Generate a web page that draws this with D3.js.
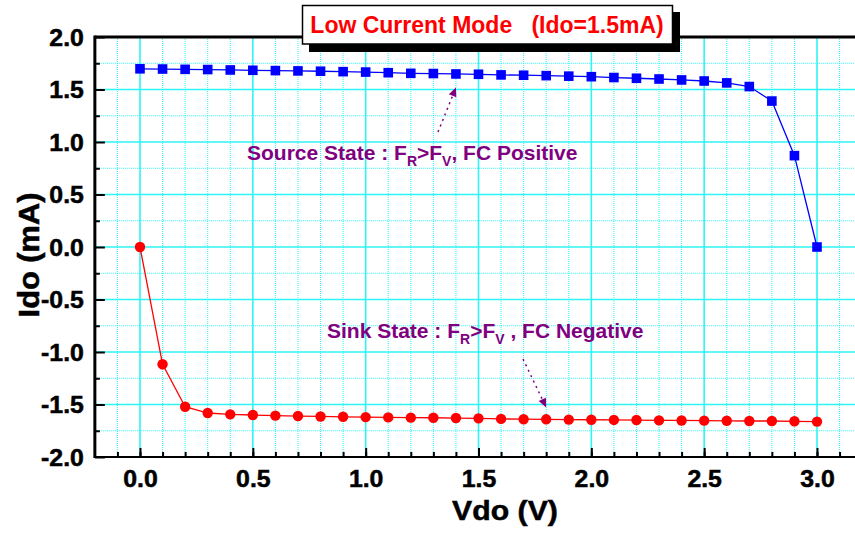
<!DOCTYPE html>
<html><head><meta charset="utf-8">
<script src="https://cdn.jsdelivr.net/npm/d3@7"></script>
<style>
html,body{margin:0;padding:0;background:#fff;}
svg{display:block;font-family:"Liberation Sans",Arial,sans-serif;font-weight:bold;}
</style></head>
<body><svg id="c" width="855" height="533"></svg>
<script>
// ---- data ----
const vdo = [0.0,0.1,0.2,0.3,0.4,0.5,0.6,0.7,0.8,0.9,1.0,1.1,1.2,1.3,1.4,1.5,1.6,1.7,1.8,1.9,2.0,2.1,2.2,2.3,2.4,2.5,2.6,2.7,2.8,2.9,3.0];
const sourceIdo = [1.697,1.695,1.692,1.690,1.686,1.683,1.680,1.677,1.674,1.670,1.666,1.660,1.654,1.652,1.648,1.645,1.639,1.636,1.632,1.627,1.622,1.614,1.607,1.600,1.591,1.581,1.563,1.528,1.390,0.870,0.0];
const sinkIdo = [0.0,-1.117,-1.521,-1.581,-1.594,-1.600,-1.606,-1.610,-1.614,-1.617,-1.620,-1.623,-1.625,-1.626,-1.629,-1.632,-1.637,-1.640,-1.641,-1.644,-1.645,-1.647,-1.648,-1.651,-1.652,-1.654,-1.655,-1.657,-1.657,-1.660,-1.663];
const xTicks = [0.0,0.5,1.0,1.5,2.0,2.5,3.0];
const yTicks = [-2.0,-1.5,-1.0,-0.5,0.0,0.5,1.0,1.5,2.0];
const titleText = "Low Current Mode\u00a0\u00a0\u00a0(Ido=1.5mA)";
const xLabel = "Vdo (V)";
const yLabel = "Ido (mA)";

// ---- layout ----
const svg = d3.select("#c");
const x = d3.scaleLinear().domain([0,3]).range([140,817]);
const y = d3.scaleLinear().domain([-2,2]).range([457,37]);
const xMin = -0.2;
const pL = x(xMin), pR = 860, pT = y(2), pB = y(-2);
const fmt = d => (d < 0 ? "-" : "") + Math.abs(d).toFixed(1);

// grid
const g = svg.append("g");
const xMinor = d3.range(-1,35).map(i=>i/10).filter(v=>Math.round(v*10)%5!==0);
const xMajor = d3.range(0,35,5).map(i=>i/10);
const yMinor = d3.range(-7,8,2).map(i=>i/4);
const yMajor = d3.range(-3,4).map(i=>i/2);
const cyan = "#2ef5f5";
g.selectAll(".vxm").data(xMinor).join("line")
  .attr("x1",d=>x(d)).attr("x2",d=>x(d)).attr("y1",pT).attr("y2",pB)
  .attr("stroke",cyan).attr("stroke-width",1).attr("stroke-dasharray","1,1");
g.selectAll(".hym").data(yMinor).join("line")
  .attr("x1",pL).attr("x2",pR).attr("y1",d=>y(d)).attr("y2",d=>y(d))
  .attr("stroke",cyan).attr("stroke-width",1).attr("stroke-dasharray","1,1");
g.selectAll(".vxM").data(xMajor).join("line")
  .attr("x1",d=>x(d)).attr("x2",d=>x(d)).attr("y1",pT).attr("y2",pB)
  .attr("stroke",cyan).attr("stroke-width",1.6);
g.selectAll(".hyM").data(yMajor).join("line")
  .attr("x1",pL).attr("x2",pR).attr("y1",d=>y(d)).attr("y2",d=>y(d))
  .attr("stroke",cyan).attr("stroke-width",1.6);

// data lines
const line = d3.line().x(d=>x(d[0])).y(d=>y(d[1]));
const src = vdo.map((v,i)=>[v,sourceIdo[i]]);
const snk = vdo.map((v,i)=>[v,sinkIdo[i]]);
svg.append("path").datum(src).attr("d",line).attr("fill","none").attr("stroke","#0000ff").attr("stroke-width",1.3);
svg.append("path").datum(snk).attr("d",line).attr("fill","none").attr("stroke","#ff0000").attr("stroke-width",1.3);
svg.selectAll(".sq").data(src).join("rect")
  .attr("x",d=>x(d[0])-4.8).attr("y",d=>y(d[1])-4.8).attr("width",9.6).attr("height",9.6)
  .attr("fill","#0000ff");
svg.selectAll(".ci").data(snk).join("circle")
  .attr("cx",d=>x(d[0])).attr("cy",d=>y(d[1])).attr("r",5.2).attr("fill","#ff0000");

// axes
const ax = svg.append("g");
const xAxisMinor = d3.axisBottom(x).tickValues(d3.range(-1,35).map(i=>i/10)).tickSize(-5).tickFormat("");
const xAxisMajor = d3.axisBottom(x).tickValues(xTicks).tickSize(-9).tickFormat(fmt);
const xg1 = ax.append("g").attr("transform",`translate(0,${pB})`).call(xAxisMinor);
const xg2 = ax.append("g").attr("transform",`translate(0,${pB})`).call(xAxisMajor);
[xg1,xg2].forEach(gg=>{ gg.select(".domain").remove(); gg.selectAll("line").attr("stroke","#000").attr("stroke-width",2); });
xg2.selectAll("text")
  .attr("font-size",23).attr("font-family","Liberation Sans, Arial").attr("font-weight","bold").attr("fill","#000")
  .attr("stroke","#000").attr("stroke-width",0.5)
  .attr("dy","0").attr("y",30.5).attr("transform","scale(1.08,1)");
const yAxisMinor = d3.axisLeft(y).tickValues(yMinor).tickSize(-5).tickFormat("");
const yAxisMajor = d3.axisLeft(y).tickValues(yTicks).tickSize(-10).tickFormat(fmt);
const yg1 = ax.append("g").attr("transform",`translate(${pL},0)`).call(yAxisMinor);
const yg2 = ax.append("g").attr("transform",`translate(${pL},0)`).call(yAxisMajor);
[yg1,yg2].forEach(gg=>{ gg.select(".domain").remove(); gg.selectAll("line").attr("stroke","#000").attr("stroke-width",2); });
yg2.selectAll("text").attr("font-size",23).attr("font-family","Liberation Sans, Arial").attr("font-weight","bold").attr("fill","#000")
  .attr("stroke","#000").attr("stroke-width",0.5)
  .attr("x",-11/1.08).attr("dy","0.36em").attr("text-anchor","end").attr("transform","scale(1.08,1)");
// frame lines
ax.append("line").attr("x1",pL).attr("x2",pL).attr("y1",pT-1.5).attr("y2",pB+1).attr("stroke","#000").attr("stroke-width",3);
ax.append("line").attr("x1",pL).attr("x2",pR).attr("y1",pB).attr("y2",pB).attr("stroke","#000").attr("stroke-width",2);
ax.append("line").attr("x1",pL).attr("x2",pR).attr("y1",pT).attr("y2",pT).attr("stroke","#000").attr("stroke-width",3);

// axis titles
svg.append("text").text(xLabel).attr("text-anchor","middle").attr("font-size",27)
  .attr("stroke","#000").attr("stroke-width",0.5)
  .attr("transform",`translate(505,520) scale(1.12,1)`);
svg.append("text").text(yLabel).attr("text-anchor","middle").attr("font-size",28)
  .attr("stroke","#000").attr("stroke-width",0.5)
  .attr("transform",`translate(39,255) rotate(-90) scale(1.1,1.05)`);

// title box
svg.append("rect").attr("x",309).attr("y",12).attr("width",371).attr("height",40).attr("fill","#000");
svg.append("rect").attr("x",302.5).attr("y",5.5).attr("width",370).attr("height",38.5).attr("fill","#fff").attr("stroke","#000").attr("stroke-width",1.5);
svg.append("text").text(titleText).attr("x",487).attr("y",33).attr("text-anchor","middle").attr("font-size",23).attr("fill","#ff0000");

// annotations
const purple = "#800080";
function annot(xp, yp, parts){
  const t = svg.append("text").attr("x",xp).attr("y",yp).attr("fill",purple).attr("font-size",21);
  parts.forEach(p=>{
    if(p.sub){ t.append("tspan").text(p.t).attr("font-size",14).attr("dy",6); }
    else { t.append("tspan").text(p.t).attr("dy",p.back?-6:0); }
  });
}
annot(247,160,[{t:"Source State : F"},{t:"R",sub:true},{t:">F",back:true},{t:"V",sub:true},{t:", FC Positive",back:true}]);
annot(327,338,[{t:"Sink State : F"},{t:"R",sub:true},{t:">F",back:true},{t:"V",sub:true},{t:" , FC Negative",back:true}]);

function arrow(x1,y1,x2,y2){
  const ang = Math.atan2(y2-y1,x2-x1);
  const L=9, W=4;
  const bx = x2-L*Math.cos(ang), by = y2-L*Math.sin(ang);
  svg.append("line").attr("x1",x1).attr("y1",y1).attr("x2",bx).attr("y2",by)
    .attr("stroke",purple).attr("stroke-width",1.5).attr("stroke-dasharray","2,4");
  const pts = [[x2,y2],[bx+W*Math.sin(ang),by-W*Math.cos(ang)],[bx-W*Math.sin(ang),by+W*Math.cos(ang)]];
  svg.append("polygon").attr("points",pts.map(p=>p.join(",")).join(" ")).attr("fill",purple);
}
arrow(438,132,x(1.4),y(1.5)-2);
arrow(523,359,x(1.8),y(-1.5)+3);
</script></body></html>
